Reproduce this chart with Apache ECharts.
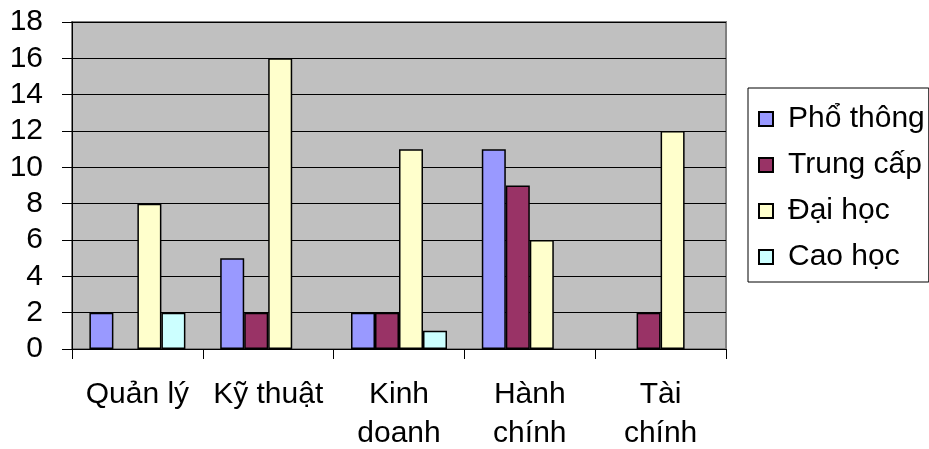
<!DOCTYPE html>
<html>
<head>
<meta charset="utf-8">
<script src="https://cdn.jsdelivr.net/npm/echarts@6/dist/echarts.min.js"></script>
<style>
  html, body { margin: 0; padding: 0; background: #ffffff; }
  #chart { width: 929px; height: 449px; }
</style>
</head>
<body>
<div id="chart"></div>
<script>
// Staff by department and education level
const categories = ['Quản lý', 'Kỹ thuật', 'Kinh\ndoanh', 'Hành\nchính', 'Tài\nchính'];
const phoThong = [2, 5, 2, 11, null];
const trungCap = [null, 2, 2, 9, 2];
const daiHoc = [8, 16, 11, 6, 12];
const caoHoc = [2, null, 1, null, null];
const yTicks = { min: 0, max: 18, interval: 2 };

const FONT = '"Liberation Sans", Arial, sans-serif';

function barSeries(name, data, color) {
  return {
    name: name,
    type: 'bar',
    data: data,
    barWidth: 24,
    barGap: '0%',
    itemStyle: { color: color, borderColor: '#000000', borderWidth: 1.5 },
    emphasis: { disabled: true }
  };
}

const chart = echarts.init(document.getElementById('chart'), null, { renderer: 'canvas' });
chart.setOption({
  animation: false,
  backgroundColor: '#ffffff',
  textStyle: { fontFamily: FONT },
  grid: {
    left: 72, top: 22, width: 654, height: 327,
    containLabel: false,
    outerBoundsMode: 'none',
    show: true, backgroundColor: '#C0C0C0', borderColor: '#808080', borderWidth: 2
  },
  legend: {
    orient: 'vertical',
    left: 748, top: 88,
    padding: [16, 4, 10, 10],
    itemWidth: 14, itemHeight: 14, itemGap: 16,
    icon: 'rect',
    borderColor: '#000000', borderWidth: 1,
    backgroundColor: '#ffffff',
    textStyle: { fontFamily: FONT, fontSize: 30, color: '#000000', lineHeight: 30, padding: [0, 0, 0, 10] },
    data: ['Phổ thông', 'Trung cấp', 'Đại học', 'Cao học']
  },
  xAxis: {
    type: 'category',
    data: categories,
    boundaryGap: true,
    axisLine: { show: true, lineStyle: { color: '#000000', width: 1 } },
    axisTick: { show: true, length: 10, lineStyle: { color: '#000000' } },
    axisLabel: { fontFamily: FONT, fontSize: 30, color: '#000000', lineHeight: 39, margin: 26, interval: 0 }
  },
  yAxis: {
    type: 'value',
    min: yTicks.min, max: yTicks.max, interval: yTicks.interval,
    axisLine: { show: true, lineStyle: { color: '#000000', width: 1 } },
    axisTick: { show: true, length: 10, lineStyle: { color: '#000000' } },
    axisLabel: { fontFamily: FONT, fontSize: 30, color: '#000000', margin: 29 },
    splitLine: { show: true, lineStyle: { color: '#000000', width: 1 } }
  },
  series: [
    barSeries('Phổ thông', phoThong, '#9999FF'),
    barSeries('Trung cấp', trungCap, '#993366'),
    barSeries('Đại học', daiHoc, '#FFFFCC'),
    barSeries('Cao học', caoHoc, '#CCFFFF')
  ]
});
</script>
</body>
</html>
